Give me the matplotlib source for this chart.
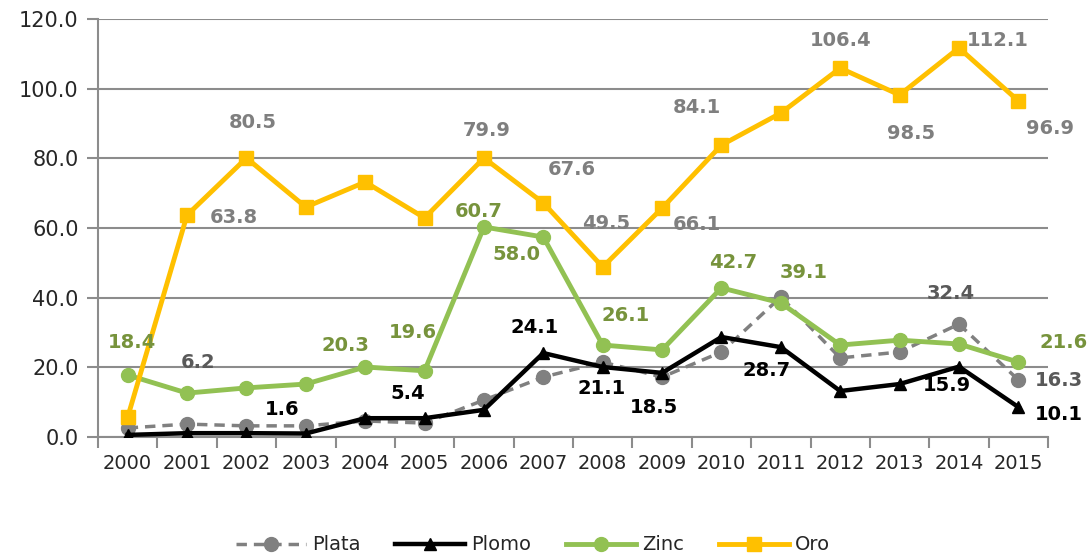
import matplotlib
matplotlib.use("Agg")
import matplotlib.pyplot as plt
import numpy as np

years = [str(y) for y in range(2000, 2016)]
plata = [2.6, 3.7, 3.2, 3.2, 4.6, 4.0, 10.6, 17.2, 21.5, 17.2, 24.4, 40.2, 22.7, 24.4, 32.4, 16.4]
plomo = [0.6, 1.1, 1.1, 1.0, 5.4, 5.4, 7.8, 24.1, 20.1, 18.4, 28.7, 25.8, 13.2, 15.2, 20.2, 8.6]
zinc = [17.8, 12.6, 14.1, 15.2, 20.1, 19.0, 60.3, 57.4, 26.4, 25.0, 42.8, 38.5, 26.4, 27.8, 26.7, 21.5]
oro = [5.7, 63.7, 80.1, 66.0, 73.2, 62.9, 80.1, 67.2, 48.8, 65.7, 83.8, 93.0, 105.9, 98.2, 111.7, 96.5]

# data labels as they appear in the chart (text, series)
oro_labels = ["80.5", "79.9", "67.6", "84.1", "106.4", "112.1", "98.5", "96.9", "63.8", "49.5", "66.1"]
oro_lx = [2.11, 6.04, 7.48, 9.58, 12.0, 14.65, 13.19, 15.54, 1.78, 8.05, 9.58]
oro_ly = [90.2, 88.1, 76.7, 94.5, 113.7, 113.7, 87.0, 88.7, 62.9, 61.4, 60.9]

zinc_labels = ["60.7", "58.0", "26.1", "42.7", "39.1", "19.6", "20.3", "18.4", "21.6"]
zinc_lx = [5.92, 6.54, 8.39, 10.2, 11.38, 4.8, 3.66, 0.08, 15.77]
zinc_ly = [64.6, 52.3, 35.0, 50.2, 47.1, 30.1, 26.4, 27.0, 27.0]

plata_labels = ["6.2", "32.4", "16.3"]
plata_lx = [1.19, 13.86, 15.69]
plata_ly = [21.5, 41.3, 16.1]

plomo_labels = ["1.6", "5.4", "24.1", "21.1", "18.5", "28.7", "15.9", "10.1"]
plomo_lx = [2.6, 4.71, 6.85, 7.99, 8.86, 10.76, 13.79, 15.69]
plomo_ly = [7.8, 12.6, 31.3, 13.8, 8.6, 19.2, 14.9, 6.6]

C_ORO = "#FFC000"
C_ZINC = "#92C153"
C_PLATA = "#808080"
C_PLOMO = "#000000"

fig = plt.figure(figsize=(10.89, 5.57), dpi=100)
ax = fig.add_axes([98/1089, (557-437)/557, (1048-98)/1089, (437-19)/557])

x = np.arange(len(years))
lp, = ax.plot(x, plata, color=C_PLATA, lw=2.5, ls=(0, (3, 2)), marker="o", ms=10, label="Plata", zorder=3)
lb, = ax.plot(x, plomo, color=C_PLOMO, lw=3.2, marker="^", ms=9, label="Plomo", zorder=4)
lz, = ax.plot(x, zinc, color=C_ZINC, lw=3.5, marker="o", ms=10, label="Zinc", zorder=5)
lo, = ax.plot(x, oro, color=C_ORO, lw=3.5, marker="s", ms=10, label="Oro", zorder=6)

def put(labels, lx, ly, color):
    for t, xx, yy in zip(labels, lx, ly):
        ax.text(xx, yy, t, color=color, fontsize=14, fontweight="bold",
                ha="center", va="center", zorder=7)

put(oro_labels, oro_lx, oro_ly, "#7F7F7F")
put(zinc_labels, zinc_lx, zinc_ly, "#77933C")
put(plata_labels, plata_lx, plata_ly, "#595959")
put(plomo_labels, plomo_lx, plomo_ly, "#000000")

ax.set_xlim(-0.5, len(years) - 0.5)
ax.set_ylim(0, 120)
ax.set_yticks(np.arange(0, 121, 20))
ax.set_yticklabels([f"{v:.1f}" for v in np.arange(0, 121, 20)])
ax.set_xticks(x)
ax.set_xticklabels(years)
ax.set_xticks(np.arange(-0.5, len(years), 1), minor=True)
ax.tick_params(axis="x", which="major", length=0, pad=12, labelsize=14, labelcolor="#262626")
ax.tick_params(axis="x", which="minor", length=8, width=1.5, color="#8C8C8C", direction="out")
ax.tick_params(axis="y", length=8, width=1.5, color="#8C8C8C", labelsize=15, labelcolor="#262626", pad=6)
ax.grid(axis="y", color="#8C8C8C", lw=1.5, zorder=0)
ax.set_axisbelow(True)
for s in ["top", "right"]:
    ax.spines[s].set_visible(False)
for s in ["left", "bottom"]:
    ax.spines[s].set_color("#8C8C8C")
    ax.spines[s].set_linewidth(1.5)
ax.spines["bottom"].set_zorder(2)

fig.legend(handles=[lp, lb, lz, lo], loc="center", bbox_to_anchor=(533/1089, 1 - 545/557),
           ncol=4, frameon=False, fontsize=14, handlelength=3.6, columnspacing=1.8,
           handletextpad=0.3, labelcolor="#262626")

fig.savefig("out.png", dpi=100)
